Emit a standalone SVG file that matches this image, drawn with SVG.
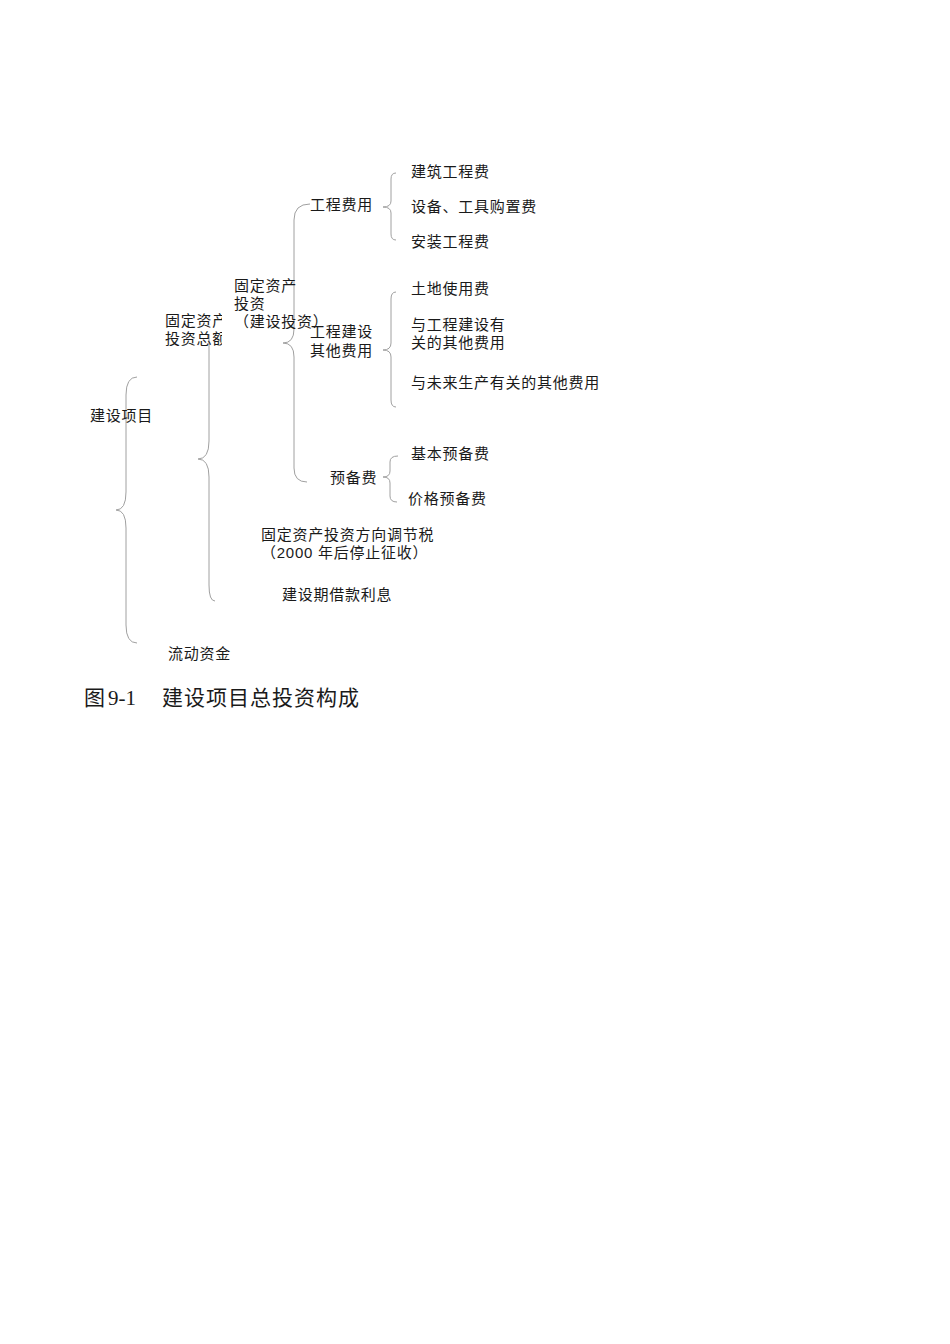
<svg xmlns="http://www.w3.org/2000/svg" width="950" height="1344" viewBox="0 0 950 1344">
<style>
text{font-family:"Liberation Sans","Noto Sans CJK SC",sans-serif;font-size:15px;letter-spacing:0.75px;fill:#1a1a1a}
.cap{font-size:21px;letter-spacing:1px}
.num{font-family:"Liberation Serif","Noto Sans CJK SC",serif;letter-spacing:0}
.br{fill:none;stroke:#a0a0a0;stroke-width:1}
</style>
<defs>
<clipPath id="c1"><rect x="150" y="300" width="72" height="60"/></clipPath>
</defs>
<rect width="950" height="1344" fill="#fff"/>
<g id="connectors">
<path class="br" d="M137,377 Q126,377 126,395 L126,492 Q126,510 116,510 Q126,510 126,528 L126,625 Q126,643 137,643"/>
<path class="br" d="M209,334 L209,441 Q209,459 198,459 Q209,459 209,477 L209,585 Q209,601 215,601"/>
<path class="br" d="M310,204 Q294,204 294,220 L294,329 Q294,343 283,343 Q294,343 294,357 L294,468 Q294,482 307,482"/>
<path class="br" d="M396,173 Q391,173 391,179 L391,201 Q391,207 383,207 Q391,207 391,213 L391,234 Q391,240 396,240"/>
<path class="br" d="M396,292 Q391,292 391,299 L391,343 Q391,350 383,350 Q391,350 391,357 L391,400 Q391,407 396,407"/>
<path class="br" d="M398,456 Q390,456 390,462 L390,471 Q390,477 383,477 Q390,477 390,483 L390,496 Q390,502 397,502"/>
</g>
<g id="n-jsxm"><text x="90" y="421">建设项目</text></g>
<g id="n-gdzctzze" clip-path="url(#c1)"><text x="165" y="326">固定资产</text><text x="165" y="344">投资总额</text></g>
<g id="n-gdzctz"><text x="234" y="291">固定资产</text><text x="234" y="309">投资</text><text x="234" y="327">（建设投资）</text></g>
<g id="n-gcfy"><text x="310" y="210">工程费用</text></g>
<g id="n-gcjsqtfy"><text x="310" y="337">工程建设</text><text x="310" y="356">其他费用</text></g>
<g id="n-ybf"><text x="330" y="483">预备费</text></g>
<g id="n-jzgcf"><text x="411" y="177">建筑工程费</text></g>
<g id="n-sbgjgzf"><text x="411" y="212">设备、工具购置费</text></g>
<g id="n-azgcf"><text x="411" y="247">安装工程费</text></g>
<g id="n-tdsyf"><text x="411" y="294">土地使用费</text></g>
<g id="n-ygcjs"><text x="411" y="330">与工程建设有</text><text x="411" y="348">关的其他费用</text></g>
<g id="n-ywlsc"><text x="411" y="388">与未来生产有关的其他费用</text></g>
<g id="n-jbybf"><text x="411" y="459">基本预备费</text></g>
<g id="n-jgybf"><text x="408" y="504">价格预备费</text></g>
<g id="n-tzfxtjs"><text x="261" y="540">固定资产投资方向调节税</text><text x="261" y="558">（2000 年后停止征收）</text></g>
<g id="n-jsqjklx"><text x="282" y="600">建设期借款利息</text></g>
<g id="n-ldzj"><text x="168" y="659">流动资金</text></g>
<g id="caption"><text class="cap" y="705"><tspan x="84">图</tspan><tspan class="num" x="108">9-1</tspan><tspan x="162">建设项目总投资构成</tspan></text></g>
</svg>
